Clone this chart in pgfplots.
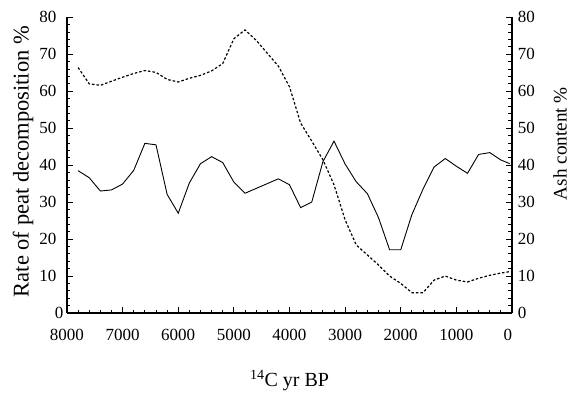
\documentclass[border=0pt]{standalone}
\usepackage{fontspec}
\setmainfont{Liberation Serif}
\usepackage{pgfplots}
\pgfplotsset{compat=1.18}
\begin{document}
\begin{tikzpicture}
\pgfplotsset{
 common/.style={
  scale only axis, width=445pt, height=295.7pt,
  xmin=0, xmax=8000, x dir=reverse, ymin=0, ymax=80,
  tick align=inside,
  major tick length=6pt, minor tick length=3.5pt,
  every tick/.style={black, line width=0.8pt},
  axis line style={line width=1.6pt},
  /pgf/number format/assume math mode=true,
  /pgf/number format/1000 sep={},
  tick label style={font=\fontsize{17}{17}\selectfont},
  ytick={0,10,...,80}, minor y tick num=4,
 }
}
\begin{axis}[common, at={(0,0)}, anchor=south west,
  axis x line*=bottom, axis y line*=left,
  xtick={0,1000,...,8000}, minor x tick num=4,
  xticklabel style={yshift=-13pt},
  xticklabel={\ifdim\tick pt<1pt \pgfmathprintnumber{\tick}\hspace*{8pt}\else\pgfmathprintnumber{\tick}\fi},
  yticklabel={\ifdim\tick pt<1pt \pgfmathprintnumber{\tick}\else\pgfmathprintnumber{\tick}\hspace*{7pt}\fi},
  xlabel={\textsuperscript{14}C yr BP},
  xlabel style={font=\fontsize{20}{22}\selectfont, at={(axis description cs:0.5,-0.25)}, anchor=base},
  ylabel={Rate of peat decomposition \%},
  ylabel style={font=\fontsize{22.5}{24}\selectfont, at={(axis description cs:-0.0989,0.512)}, anchor=center}]
\addplot[black, line width=0.9pt, no markers] table {
7800 38.5
7600 36.6
7400 33.0
7200 33.3
7000 34.9
6800 38.6
6600 45.9
6400 45.5
6200 32.1
6000 27.0
5800 35.2
5600 40.4
5400 42.3
5200 40.7
5000 35.4
4800 32.4
4600 33.7
4400 35.0
4200 36.3
4000 34.7
3800 28.5
3600 30.0
3400 40.9
3200 46.5
3000 40.3
2800 35.5
2600 32.3
2400 25.8
2200 17.1
2000 17.1
1800 26.6
1600 33.5
1400 39.5
1200 41.8
1000 39.7
800 37.8
600 42.9
400 43.4
200 41.4
40 40.4
};
\end{axis}
\begin{axis}[common, at={(0,0)}, anchor=south west,
  axis y line*=right, axis x line=none,
  yticklabel style={xshift=2.3pt},
  ylabel={Ash content \%},
  ylabel style={font=\fontsize{19.2}{21}\selectfont, at={(axis description cs:1.108,0.573)}, anchor=center}]
\addplot[black, line width=1.2pt, no markers, dash pattern=on 2.5pt off 2pt] table {
7800 66.4
7600 62.0
7400 61.6
7200 62.7
7000 63.8
6800 64.8
6600 65.6
6400 65.1
6200 63.2
6000 62.5
5800 63.5
5600 64.3
5400 65.5
5200 67.5
5000 74.2
4800 76.6
4600 73.8
4400 70.3
4200 66.8
4000 61.2
3800 51.4
3600 46.5
3400 41.5
3200 34.7
3000 25.2
2800 18.4
2600 15.7
2400 13.0
2200 10.0
2000 8.0
1800 5.5
1600 5.5
1400 8.9
1200 10.0
1000 8.9
800 8.4
600 9.4
400 10.2
200 10.8
40 11.2
};
\end{axis}
\path (-67pt,-77pt) rectangle (510pt,313pt);
\end{tikzpicture}
\end{document}
